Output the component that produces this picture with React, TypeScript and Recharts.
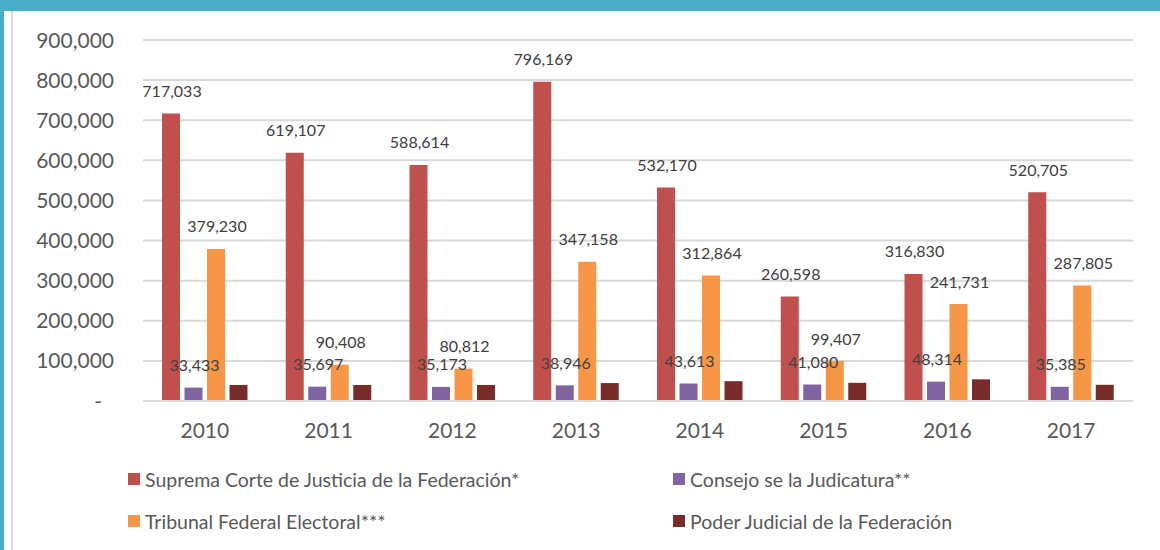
import React from 'react';
import { BarChart, Bar, XAxis, YAxis, CartesianGrid, LabelList } from 'recharts';

const years = ['2010', '2011', '2012', '2013', '2014', '2015', '2016', '2017'];
const suprema = [717033, 619107, 588614, 796169, 532170, 260598, 316830, 520705];
const consejo = [33433, 35697, 35173, 38946, 43613, 41080, 48314, 35385];
const tribunal = [379230, 90408, 80812, 347158, 312864, 99407, 241731, 287805];
const poder = [40000, 40000, 40000, 44700, 49400, 45300, 54000, 40400];
const yTicks = [0, 100000, 200000, 300000, 400000, 500000, 600000, 700000, 800000, 900000];

const seriesNames = [
  'Suprema Corte de Justicia de la Federación*',
  'Consejo se la Judicatura**',
  'Tribunal Federal Electoral***',
  'Poder Judicial de la Federación',
];
const seriesKeys = ['suprema', 'consejo', 'tribunal', 'poder'];
const seriesColors = ['#C0504D', '#8064A2', '#F79646', '#772C2A'];

const data = years.map((y, i) => ({
  year: y,
  suprema: suprema[i],
  consejo: consejo[i],
  tribunal: tribunal[i],
  poder: poder[i],
}));

const FONT = 'Lato, "Open Sans", sans-serif';
const fmt = (v: number) => v.toLocaleString('en-US');

const YTick = (props: any) => {
  const { x, y, payload } = props;
  const isZero = payload.value === 0;
  return (
    <text
      x={isZero ? x - 41 : x - 29}
      y={y}
      dy={7.5}
      textAnchor="end"
      fontFamily={FONT}
      fontSize={21}
      fill="#595959"
    >
      {isZero ? '-' : fmt(payload.value)}
    </text>
  );
};

const XTick = (props: any) => {
  const { x, y, payload } = props;
  return (
    <text x={x} y={y + 37} textAnchor="middle" fontFamily={FONT} fontSize={21} fill="#595959">
      {payload.value}
    </text>
  );
};

const DataLabel = (props: any) => {
  const { x, y, width, value } = props;
  return (
    <text
      x={x + width / 2 + 1}
      y={y - 22}
      dy={5.5}
      textAnchor="middle"
      fontFamily={FONT}
      fontSize={16}
      fill="#404040"
    >
      {fmt(value)}
    </text>
  );
};

const legendPos = [
  { left: 128, top: 473 },
  { left: 673, top: 473 },
  { left: 128, top: 515 },
  { left: 673, top: 515 },
];

export default function App() {
  return (
    <div
      style={{
        position: 'fixed',
        left: 0,
        top: 0,
        width: 1160,
        height: 550,
        background: '#ffffff',
        overflow: 'hidden',
      }}
    >
      <div style={{ position: 'absolute', left: 0, top: 0, width: 1160, height: 11, background: '#4BACC6' }} />
      <div style={{ position: 'absolute', left: 0, top: 0, width: 4, height: 550, background: '#4BACC6' }} />
      <div style={{ position: 'absolute', left: 11, top: 11, width: 2, height: 539, background: '#D9D9D9' }} />
      <div style={{ position: 'absolute', left: 13, top: 11, width: 1147, height: 1, background: '#E8E8E8' }} />
      <div style={{ position: 'absolute', left: 0, top: 0 }}>
        <BarChart
          width={1160}
          height={550}
          data={data}
          margin={{ top: 40, right: 27, bottom: 89, left: 0 }}
          barSize={18}
          barGap={4.5}
        >
          <CartesianGrid vertical={false} stroke="#D9D9D9" strokeWidth={2} />
          <XAxis
            dataKey="year"
            height={60}
            axisLine={{ stroke: '#D9D9D9', strokeWidth: 2 }}
            tickLine={false}
            tickSize={0}
            tickMargin={0}
            tick={<XTick />}
            interval={0}
          />
          <YAxis
            width={143}
            domain={[0, 900000]}
            ticks={yTicks}
            axisLine={false}
            tickLine={false}
            tickSize={0}
            tickMargin={0}
            tick={<YTick />}
            interval={0}
          />
          {seriesKeys.map((k, i) => (
            <Bar key={k} dataKey={k} name={seriesNames[i]} fill={seriesColors[i]} isAnimationActive={false}>
              {k !== 'poder' && <LabelList dataKey={k} content={<DataLabel />} />}
            </Bar>
          ))}
        </BarChart>
      </div>
      {seriesNames.map((n, i) => (
        <div
          key={n}
          style={{
            position: 'absolute',
            left: legendPos[i].left,
            top: legendPos[i].top - 8,
            height: 28,
            display: 'flex',
            alignItems: 'center',
            fontFamily: FONT,
            fontSize: 19.5,
            color: '#595959',
            whiteSpace: 'nowrap',
          }}
        >
          <span style={{ display: 'inline-block', width: 12, height: 12, background: seriesColors[i], marginRight: 5 }} />
          <span>{n}</span>
        </div>
      ))}
    </div>
  );
}
